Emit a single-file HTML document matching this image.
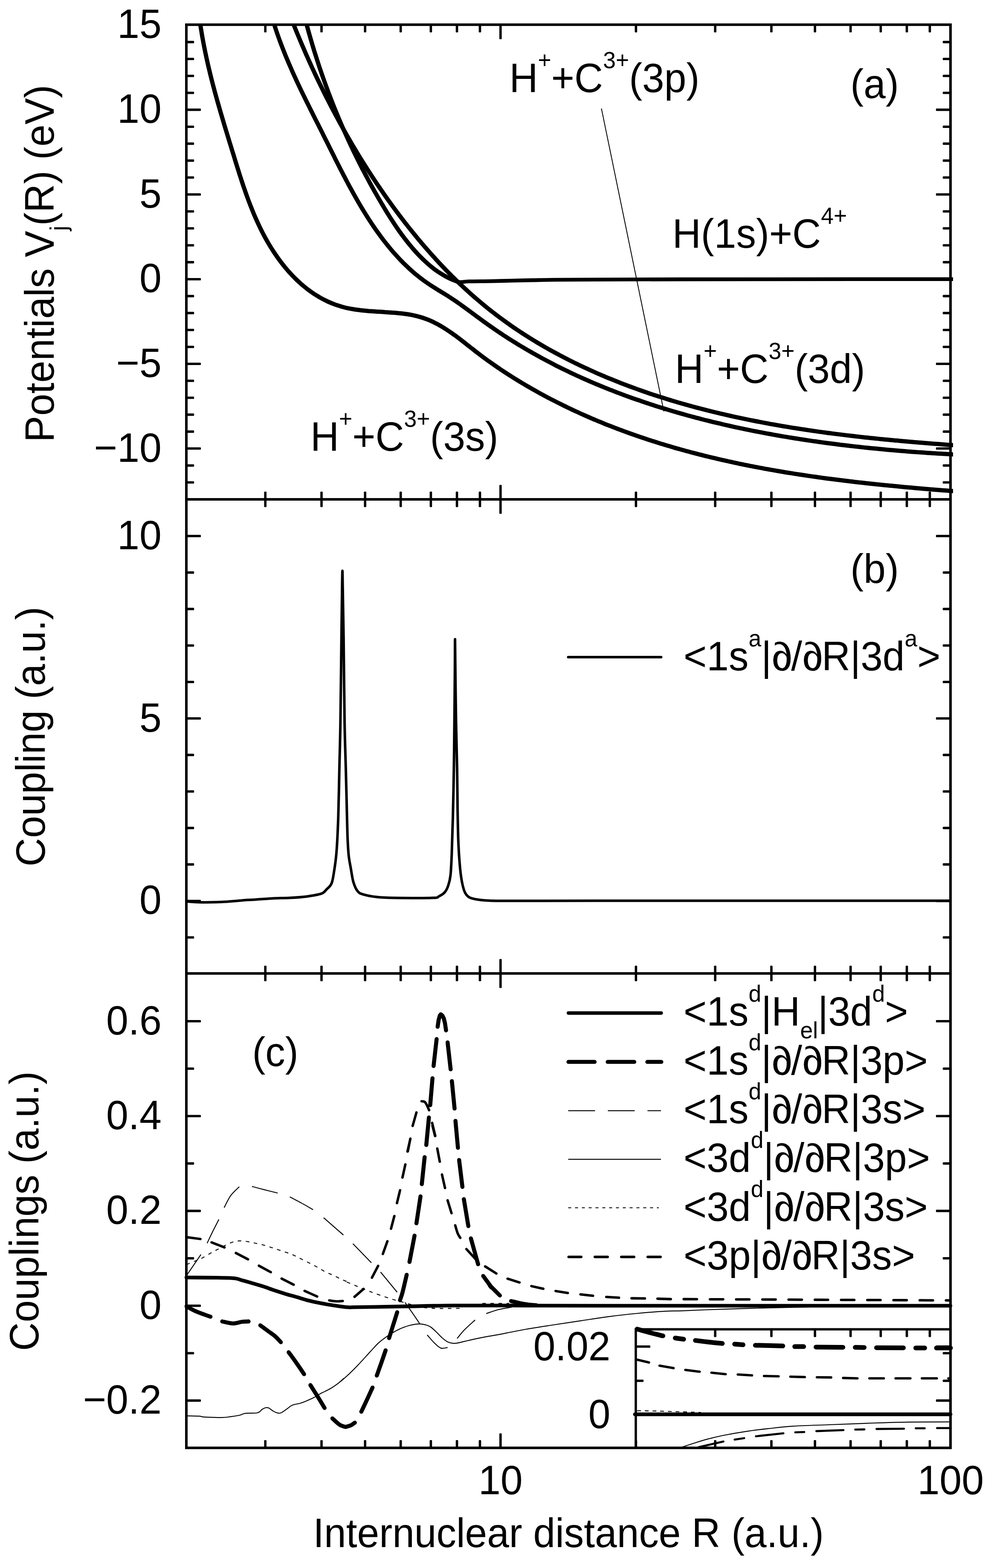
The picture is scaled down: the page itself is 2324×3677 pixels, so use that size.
<!DOCTYPE html>
<html lang="en"><head><meta charset="utf-8"><title>Potentials and couplings</title>
<style>html,body{margin:0;padding:0;background:#fff}svg{display:block}text{font-family:"Liberation Sans",sans-serif;fill:#000}</style>
</head><body>
<svg width="2324" height="3677" viewBox="0 0 2324 3677">
<rect x="0" y="0" width="2324" height="3677" fill="#fff"/>
<defs>
<clipPath id="ca"><rect x="437.0" y="54.9" width="1798.0" height="1116.1"/></clipPath>
<clipPath id="cb"><rect x="437.0" y="1171.0" width="1792.0" height="1111.8000000000002"/></clipPath>
<clipPath id="cc"><rect x="433.0" y="2282.8" width="1800.0" height="1112.5"/></clipPath>
<clipPath id="ci"><rect x="1484" y="3110" width="751.0" height="285.3000000000002"/></clipPath>
</defs>
<g fill="none" stroke="#000">
<g clip-path="url(#ca)">
<path d="M467.0 37.3C467.2 39.4 468.0 45.5 468.6 49.6C469.2 53.7 469.8 57.8 470.4 61.8C471.1 65.9 471.7 69.9 472.4 74.0C473.0 78.0 473.7 82.1 474.4 86.1C475.1 90.1 475.9 94.1 476.6 98.1C477.3 102.1 478.1 106.1 478.9 110.0C479.7 114.0 480.5 118.0 481.3 121.9C482.1 125.9 483.0 129.8 483.8 133.8C484.7 137.7 485.5 141.6 486.4 145.6C487.3 149.5 488.2 153.4 489.1 157.3C490.0 161.2 491.0 165.1 491.9 169.0C492.8 172.9 493.8 176.8 494.8 180.7C495.7 184.5 496.7 188.4 497.7 192.3C498.7 196.2 499.7 200.0 500.7 203.9C501.8 207.7 502.8 211.6 503.8 215.4C504.9 219.3 505.9 223.1 507.0 227.0C508.1 230.8 509.1 234.7 510.2 238.5C511.3 242.4 512.4 246.2 513.5 250.0C514.6 253.9 515.7 257.7 516.8 261.5C517.9 265.4 519.1 269.2 520.2 273.0C521.3 276.8 522.5 280.7 523.6 284.5C524.7 288.3 525.9 292.2 527.0 296.0C528.2 299.8 529.4 303.6 530.5 307.5C531.7 311.3 532.9 315.1 534.0 319.0C535.2 322.8 536.4 326.6 537.5 330.5C538.7 334.3 539.9 338.2 541.1 342.0C542.3 345.9 543.4 349.7 544.6 353.6C545.8 357.4 547.0 361.3 548.2 365.1C549.4 369.0 550.5 372.8 551.7 376.7C552.9 380.6 554.1 384.4 555.3 388.3C556.5 392.2 557.7 396.0 559.0 399.9C560.2 403.8 561.4 407.6 562.6 411.5C563.9 415.3 565.1 419.2 566.4 423.1C567.7 426.9 568.9 430.8 570.2 434.6C571.5 438.5 572.8 442.3 574.2 446.1C575.5 450.0 576.9 453.8 578.2 457.6C579.6 461.4 581.0 465.3 582.4 469.1C583.8 472.9 585.3 476.6 586.7 480.4C588.2 484.2 589.7 488.0 591.2 491.7C592.7 495.5 594.3 499.2 595.8 503.0C597.4 506.7 599.0 510.4 600.7 514.1C602.3 517.8 604.0 521.5 605.7 525.2C607.4 528.8 609.2 532.5 610.9 536.1C612.7 539.7 614.6 543.4 616.4 547.0C618.3 550.6 620.2 554.1 622.1 557.7C624.1 561.2 626.1 564.8 628.1 568.3C630.2 571.8 632.2 575.3 634.4 578.7C636.5 582.2 638.7 585.6 640.9 589.0C643.1 592.4 645.4 595.8 647.7 599.1C650.0 602.5 652.3 605.8 654.7 609.0C657.1 612.3 659.5 615.5 662.0 618.7C664.5 621.9 667.1 625.0 669.6 628.1C672.2 631.2 674.8 634.3 677.5 637.3C680.2 640.2 682.9 643.2 685.6 646.1C688.4 649.0 691.2 651.8 694.0 654.6C696.9 657.4 699.8 660.1 702.7 662.7C705.6 665.4 708.6 668.0 711.6 670.5C714.7 673.1 717.7 675.5 720.9 677.9C724.0 680.3 727.1 682.6 730.3 684.9C733.6 687.1 736.8 689.3 740.1 691.4C743.4 693.5 746.8 695.5 750.1 697.5C753.5 699.4 757.0 701.3 760.4 703.1C763.9 704.8 767.5 706.5 771.0 708.1C774.6 709.7 778.2 711.2 781.9 712.6C785.5 714.1 789.2 715.4 793.0 716.6C796.7 717.8 800.5 719.0 804.4 720.0C808.2 721.0 812.1 722.0 816.1 722.8C820.0 723.6 824.0 724.4 828.0 725.0C832.0 725.7 836.0 726.3 840.1 726.8C844.1 727.4 848.2 727.8 852.3 728.2C856.5 728.7 860.6 729.0 864.7 729.4C868.9 729.7 873.0 730.0 877.2 730.3C881.4 730.6 885.5 730.8 889.7 731.1C893.9 731.3 898.0 731.6 902.2 731.9C906.4 732.1 910.5 732.4 914.7 732.7C918.8 733.0 922.9 733.3 927.0 733.6C931.1 734.0 935.2 734.4 939.3 734.8C943.3 735.3 947.4 735.8 951.3 736.3C955.3 736.9 959.3 737.5 963.2 738.2C967.1 739.0 971.0 739.7 974.8 740.6C978.6 741.5 982.4 742.5 986.1 743.6C989.8 744.7 993.5 745.9 997.1 747.2C1000.7 748.5 1004.3 749.9 1007.8 751.4C1011.3 752.9 1014.8 754.5 1018.2 756.2C1021.6 757.9 1025.0 759.6 1028.3 761.5C1031.7 763.3 1035.0 765.2 1038.2 767.2C1041.5 769.2 1044.8 771.3 1048.0 773.4C1051.2 775.5 1054.4 777.7 1057.6 779.9C1060.7 782.1 1063.9 784.3 1067.0 786.6C1070.2 788.9 1073.3 791.3 1076.4 793.6C1079.5 796.0 1082.6 798.4 1085.7 800.8C1088.8 803.2 1091.9 805.6 1095.0 808.1C1098.1 810.5 1101.3 813.0 1104.4 815.4C1107.5 817.8 1110.6 820.3 1113.7 822.7C1116.9 825.2 1120.0 827.6 1123.2 830.0C1126.3 832.4 1129.5 834.8 1132.7 837.2C1135.9 839.5 1139.1 841.9 1142.3 844.2C1145.6 846.6 1148.8 848.9 1152.1 851.2C1155.3 853.5 1158.6 855.8 1161.9 858.0C1165.2 860.3 1168.5 862.6 1171.8 864.8C1175.1 867.1 1178.4 869.3 1181.8 871.5C1185.1 873.7 1188.5 875.9 1191.9 878.1C1195.2 880.2 1198.6 882.4 1202.0 884.5C1205.4 886.7 1208.8 888.8 1212.3 890.9C1215.7 893.0 1219.1 895.1 1222.6 897.2C1226.0 899.3 1229.5 901.3 1232.9 903.4C1236.4 905.4 1239.9 907.4 1243.4 909.4C1246.9 911.5 1250.4 913.5 1253.9 915.4C1257.4 917.4 1260.9 919.4 1264.5 921.3C1268.0 923.3 1271.6 925.2 1275.1 927.1C1278.7 929.0 1282.3 930.9 1285.8 932.8C1289.4 934.7 1293.0 936.6 1296.6 938.4C1300.2 940.3 1303.8 942.1 1307.4 943.9C1311.0 945.7 1314.6 947.5 1318.3 949.3C1321.9 951.1 1325.5 952.9 1329.2 954.6C1332.8 956.4 1336.5 958.1 1340.1 959.9C1343.8 961.6 1347.4 963.3 1351.1 965.0C1354.8 966.7 1358.5 968.3 1362.1 970.0C1365.8 971.7 1369.5 973.3 1373.2 974.9C1376.9 976.6 1380.6 978.2 1384.3 979.8C1388.0 981.4 1391.7 983.0 1395.5 984.5C1399.2 986.1 1402.9 987.7 1406.6 989.2C1410.4 990.7 1414.1 992.3 1417.8 993.8C1421.6 995.3 1425.3 996.8 1429.1 998.2C1432.8 999.7 1436.6 1001.2 1440.3 1002.6C1444.1 1004.1 1447.9 1005.5 1451.6 1006.9C1455.4 1008.3 1459.2 1009.7 1463.0 1011.1C1466.7 1012.5 1470.5 1013.9 1474.3 1015.3C1478.1 1016.6 1481.9 1018.0 1485.7 1019.3C1489.5 1020.6 1493.3 1022.0 1497.1 1023.3C1500.9 1024.6 1504.7 1025.9 1508.5 1027.1C1512.4 1028.4 1516.2 1029.7 1520.0 1030.9C1523.8 1032.2 1527.7 1033.4 1531.5 1034.6C1535.3 1035.9 1539.2 1037.1 1543.0 1038.3C1546.9 1039.5 1550.7 1040.7 1554.6 1041.8C1558.4 1043.0 1562.3 1044.2 1566.1 1045.3C1570.0 1046.5 1573.8 1047.6 1577.7 1048.7C1581.6 1049.9 1585.4 1051.0 1589.3 1052.1C1593.2 1053.2 1597.1 1054.2 1600.9 1055.3C1604.8 1056.4 1608.7 1057.5 1612.6 1058.5C1616.5 1059.6 1620.4 1060.6 1624.3 1061.6C1628.2 1062.6 1632.1 1063.7 1636.0 1064.7C1639.9 1065.7 1643.8 1066.7 1647.7 1067.6C1651.6 1068.6 1655.5 1069.6 1659.4 1070.5C1663.3 1071.5 1667.2 1072.4 1671.2 1073.4C1675.1 1074.3 1679.0 1075.2 1682.9 1076.2C1686.9 1077.1 1690.8 1078.0 1694.7 1078.9C1698.6 1079.8 1702.6 1080.6 1706.5 1081.5C1710.5 1082.4 1714.4 1083.2 1718.3 1084.1C1722.3 1084.9 1726.2 1085.8 1730.2 1086.6C1734.1 1087.5 1738.1 1088.3 1742.0 1089.1C1746.0 1089.9 1749.9 1090.7 1753.9 1091.5C1757.9 1092.3 1761.8 1093.1 1765.8 1093.8C1769.7 1094.6 1773.7 1095.4 1777.7 1096.1C1781.6 1096.9 1785.6 1097.6 1789.6 1098.3C1793.5 1099.1 1797.5 1099.8 1801.5 1100.5C1805.5 1101.2 1809.4 1101.9 1813.4 1102.6C1817.4 1103.3 1821.4 1104.0 1825.4 1104.7C1829.4 1105.4 1833.3 1106.1 1837.3 1106.7C1841.3 1107.4 1845.3 1108.1 1849.3 1108.7C1853.3 1109.3 1857.3 1110.0 1861.3 1110.6C1865.2 1111.3 1869.2 1111.9 1873.2 1112.5C1877.2 1113.1 1881.2 1113.7 1885.2 1114.3C1889.2 1114.9 1893.2 1115.5 1897.2 1116.1C1901.2 1116.7 1905.2 1117.3 1909.2 1117.8C1913.2 1118.4 1917.2 1119.0 1921.2 1119.5C1925.2 1120.1 1929.2 1120.6 1933.2 1121.2C1937.2 1121.7 1941.2 1122.2 1945.3 1122.8C1949.3 1123.3 1953.3 1123.8 1957.3 1124.3C1961.3 1124.8 1965.3 1125.3 1969.3 1125.8C1973.3 1126.3 1977.3 1126.8 1981.3 1127.3C1985.3 1127.8 1989.4 1128.3 1993.4 1128.8C1997.4 1129.2 2001.4 1129.7 2005.4 1130.2C2009.4 1130.6 2013.4 1131.1 2017.4 1131.6C2021.5 1132.0 2025.5 1132.5 2029.5 1132.9C2033.5 1133.3 2037.5 1133.8 2041.5 1134.2C2045.5 1134.6 2049.5 1135.1 2053.6 1135.5C2057.6 1135.9 2061.6 1136.3 2065.6 1136.7C2069.6 1137.1 2073.6 1137.5 2077.6 1137.9C2081.6 1138.4 2085.6 1138.7 2089.7 1139.1C2093.7 1139.5 2097.7 1139.9 2101.7 1140.3C2105.7 1140.7 2109.7 1141.1 2113.7 1141.4C2117.7 1141.8 2121.7 1142.2 2125.7 1142.5C2129.7 1142.9 2133.8 1143.3 2137.8 1143.6C2141.8 1144.0 2145.8 1144.3 2149.8 1144.7C2153.8 1145.0 2157.8 1145.4 2161.8 1145.7C2165.8 1146.1 2169.8 1146.4 2173.8 1146.7C2177.8 1147.1 2181.8 1147.4 2185.8 1147.7C2189.8 1148.1 2193.8 1148.4 2197.8 1148.7C2201.8 1149.0 2205.8 1149.4 2209.8 1149.7C2213.7 1150.0 2217.7 1150.3 2221.7 1150.6C2225.7 1150.9 2231.7 1151.4 2233.7 1151.6" stroke-width="10.0" stroke-linecap="round" stroke-linejoin="round" />
<path d="M637.0 37.2C637.6 39.2 639.3 45.1 640.5 49.1C641.7 53.0 642.9 56.9 644.2 60.8C645.4 64.7 646.7 68.6 648.0 72.5C649.3 76.3 650.6 80.2 652.0 84.0C653.3 87.8 654.7 91.6 656.1 95.5C657.5 99.3 658.9 103.0 660.4 106.8C661.8 110.6 663.3 114.4 664.8 118.1C666.2 121.9 667.7 125.6 669.2 129.3C670.8 133.0 672.3 136.8 673.9 140.5C675.4 144.2 677.0 147.9 678.6 151.5C680.2 155.2 681.8 158.9 683.4 162.6C685.0 166.2 686.6 169.9 688.3 173.5C689.9 177.2 691.6 180.8 693.3 184.4C694.9 188.1 696.6 191.7 698.3 195.3C700.0 198.9 701.7 202.5 703.4 206.2C705.1 209.8 706.9 213.4 708.6 217.0C710.4 220.6 712.1 224.1 713.9 227.7C715.6 231.3 717.4 234.9 719.1 238.5C720.9 242.1 722.7 245.6 724.5 249.2C726.2 252.8 728.0 256.4 729.8 259.9C731.6 263.5 733.4 267.1 735.2 270.7C737.0 274.2 738.8 277.8 740.6 281.4C742.4 285.0 744.2 288.5 746.0 292.1C747.8 295.7 749.6 299.3 751.4 302.8C753.2 306.4 755.0 310.0 756.8 313.6C758.6 317.2 760.4 320.8 762.2 324.4C764.0 328.0 765.8 331.6 767.6 335.1C769.4 338.7 771.2 342.3 773.0 346.0C774.8 349.6 776.6 353.2 778.4 356.8C780.2 360.4 782.0 364.0 783.8 367.6C785.6 371.2 787.4 374.8 789.2 378.4C791.0 382.0 792.9 385.6 794.7 389.2C796.5 392.8 798.3 396.4 800.2 399.9C802.0 403.5 803.9 407.1 805.7 410.7C807.6 414.3 809.5 417.8 811.3 421.4C813.2 425.0 815.1 428.5 817.0 432.1C818.9 435.6 820.8 439.2 822.8 442.7C824.7 446.3 826.6 449.8 828.6 453.3C830.5 456.8 832.5 460.3 834.5 463.8C836.5 467.3 838.5 470.8 840.5 474.3C842.5 477.8 844.6 481.2 846.6 484.7C848.7 488.1 850.8 491.6 852.9 495.0C855.0 498.4 857.1 501.8 859.2 505.2C861.4 508.6 863.5 512.0 865.7 515.4C867.9 518.8 870.1 522.1 872.3 525.4C874.6 528.8 876.8 532.1 879.1 535.4C881.4 538.7 883.7 542.0 886.1 545.2C888.4 548.5 890.8 551.7 893.2 554.9C895.6 558.2 898.0 561.4 900.4 564.5C902.9 567.7 905.4 570.9 907.9 574.0C910.4 577.1 913.0 580.2 915.5 583.3C918.1 586.4 920.7 589.4 923.4 592.5C926.0 595.5 928.7 598.5 931.4 601.4C934.1 604.4 936.8 607.3 939.6 610.2C942.4 613.1 945.2 615.9 948.0 618.7C950.9 621.5 953.8 624.3 956.7 627.0C959.6 629.8 962.5 632.5 965.5 635.1C968.5 637.7 971.5 640.3 974.5 642.9C977.6 645.4 980.7 647.9 983.8 650.3C986.9 652.8 990.1 655.2 993.3 657.5C996.5 659.8 999.7 662.1 1003.0 664.3C1006.2 666.6 1009.5 668.7 1012.9 670.9C1016.2 673.0 1019.5 675.1 1022.9 677.2C1026.2 679.3 1029.6 681.4 1032.9 683.4C1036.3 685.5 1039.7 687.6 1043.0 689.6C1046.4 691.7 1049.7 693.8 1053.0 695.9C1056.4 698.1 1059.6 700.2 1062.9 702.4C1066.2 704.6 1069.4 706.8 1072.7 709.0C1075.9 711.3 1079.1 713.6 1082.3 715.8C1085.5 718.1 1088.7 720.4 1091.9 722.7C1095.1 725.0 1098.2 727.4 1101.4 729.7C1104.6 732.0 1107.7 734.4 1110.9 736.7C1114.0 739.0 1117.2 741.4 1120.3 743.7C1123.5 746.0 1126.7 748.4 1129.8 750.7C1133.0 753.0 1136.2 755.3 1139.4 757.6C1142.5 759.9 1145.7 762.2 1148.9 764.4C1152.2 766.7 1155.4 768.9 1158.6 771.1C1161.8 773.4 1165.1 775.6 1168.3 777.8C1171.6 780.0 1174.9 782.1 1178.1 784.3C1181.4 786.5 1184.7 788.6 1188.0 790.7C1191.3 792.9 1194.6 795.0 1197.9 797.1C1201.2 799.2 1204.6 801.2 1207.9 803.3C1211.2 805.4 1214.6 807.4 1217.9 809.5C1221.3 811.5 1224.7 813.5 1228.0 815.5C1231.4 817.5 1234.8 819.5 1238.2 821.5C1241.6 823.5 1245.0 825.4 1248.4 827.4C1251.8 829.3 1255.3 831.2 1258.7 833.1C1262.1 835.0 1265.6 836.9 1269.0 838.8C1272.5 840.7 1276.0 842.6 1279.4 844.4C1282.9 846.3 1286.4 848.1 1289.9 849.9C1293.4 851.8 1296.9 853.6 1300.4 855.4C1303.9 857.1 1307.4 858.9 1310.9 860.7C1314.5 862.5 1318.0 864.2 1321.6 865.9C1325.1 867.7 1328.7 869.4 1332.2 871.1C1335.8 872.8 1339.3 874.5 1342.9 876.2C1346.5 877.8 1350.1 879.5 1353.7 881.2C1357.3 882.8 1360.9 884.4 1364.5 886.1C1368.1 887.7 1371.7 889.3 1375.3 890.9C1379.0 892.5 1382.6 894.1 1386.2 895.6C1389.9 897.2 1393.5 898.8 1397.2 900.3C1400.8 901.8 1404.5 903.4 1408.2 904.9C1411.9 906.4 1415.5 907.9 1419.2 909.4C1422.9 910.9 1426.6 912.3 1430.3 913.8C1434.0 915.2 1437.7 916.7 1441.4 918.1C1445.1 919.6 1448.8 921.0 1452.6 922.4C1456.3 923.8 1460.0 925.2 1463.8 926.6C1467.5 927.9 1471.3 929.3 1475.0 930.7C1478.8 932.0 1482.5 933.4 1486.3 934.7C1490.1 936.0 1493.8 937.3 1497.6 938.6C1501.4 940.0 1505.2 941.2 1509.0 942.5C1512.8 943.8 1516.6 945.1 1520.4 946.3C1524.2 947.6 1528.0 948.8 1531.8 950.1C1535.6 951.3 1539.4 952.5 1543.2 953.7C1547.1 954.9 1550.9 956.1 1554.7 957.3C1558.6 958.5 1562.4 959.7 1566.2 960.8C1570.1 962.0 1573.9 963.1 1577.8 964.3C1581.6 965.4 1585.5 966.5 1589.4 967.6C1593.2 968.7 1597.1 969.8 1601.0 970.9C1604.9 972.0 1608.7 973.1 1612.6 974.2C1616.5 975.2 1620.4 976.3 1624.3 977.3C1628.2 978.4 1632.1 979.4 1636.0 980.4C1639.9 981.5 1643.8 982.5 1647.7 983.5C1651.6 984.5 1655.5 985.5 1659.4 986.4C1663.3 987.4 1667.3 988.4 1671.2 989.3C1675.1 990.3 1679.0 991.2 1683.0 992.2C1686.9 993.1 1690.8 994.0 1694.8 995.0C1698.7 995.9 1702.7 996.8 1706.6 997.7C1710.6 998.6 1714.5 999.4 1718.5 1000.3C1722.4 1001.2 1726.4 1002.1 1730.3 1002.9C1734.3 1003.8 1738.2 1004.6 1742.2 1005.4C1746.2 1006.3 1750.1 1007.1 1754.1 1007.9C1758.1 1008.7 1762.0 1009.5 1766.0 1010.3C1770.0 1011.1 1774.0 1011.9 1778.0 1012.7C1781.9 1013.4 1785.9 1014.2 1789.9 1014.9C1793.9 1015.7 1797.9 1016.4 1801.9 1017.2C1805.8 1017.9 1809.8 1018.6 1813.8 1019.4C1817.8 1020.1 1821.8 1020.8 1825.8 1021.5C1829.8 1022.2 1833.8 1022.9 1837.8 1023.6C1841.8 1024.2 1845.8 1024.9 1849.8 1025.6C1853.8 1026.2 1857.8 1026.9 1861.8 1027.5C1865.8 1028.2 1869.8 1028.8 1873.8 1029.4C1877.8 1030.1 1881.8 1030.7 1885.9 1031.3C1889.9 1031.9 1893.9 1032.5 1897.9 1033.1C1901.9 1033.7 1905.9 1034.3 1909.9 1034.8C1913.9 1035.4 1917.9 1036.0 1922.0 1036.5C1926.0 1037.1 1930.0 1037.6 1934.0 1038.2C1938.0 1038.7 1942.0 1039.3 1946.0 1039.8C1950.1 1040.3 1954.1 1040.8 1958.1 1041.3C1962.1 1041.9 1966.1 1042.4 1970.1 1042.9C1974.1 1043.3 1978.2 1043.8 1982.2 1044.3C1986.2 1044.8 1990.2 1045.3 1994.2 1045.7C1998.2 1046.2 2002.2 1046.6 2006.2 1047.1C2010.3 1047.5 2014.3 1048.0 2018.3 1048.4C2022.3 1048.9 2026.3 1049.3 2030.3 1049.7C2034.3 1050.1 2038.3 1050.5 2042.3 1050.9C2046.3 1051.3 2050.4 1051.7 2054.4 1052.1C2058.4 1052.5 2062.4 1052.9 2066.4 1053.3C2070.4 1053.7 2074.4 1054.0 2078.4 1054.4C2082.4 1054.8 2086.4 1055.1 2090.4 1055.5C2094.4 1055.8 2098.4 1056.2 2102.3 1056.5C2106.3 1056.8 2110.3 1057.2 2114.3 1057.5C2118.3 1057.8 2122.3 1058.1 2126.3 1058.5C2130.3 1058.8 2134.2 1059.1 2138.2 1059.4C2142.2 1059.7 2146.2 1060.0 2150.2 1060.3C2154.1 1060.5 2158.1 1060.8 2162.1 1061.1C2166.0 1061.4 2170.0 1061.7 2174.0 1061.9C2177.9 1062.2 2181.9 1062.4 2185.9 1062.7C2189.8 1062.9 2193.8 1063.2 2197.7 1063.4C2201.7 1063.7 2205.6 1063.9 2209.6 1064.1C2213.5 1064.4 2217.5 1064.6 2221.4 1064.8C2225.4 1065.0 2231.3 1065.4 2233.2 1065.5" stroke-width="10.0" stroke-linecap="round" stroke-linejoin="round" />
<path d="M681.1 38.7C681.9 40.6 684.0 46.1 685.5 49.8C687.0 53.5 688.4 57.2 689.9 60.9C691.4 64.6 692.9 68.3 694.4 72.0C695.9 75.7 697.5 79.4 699.0 83.1C700.5 86.8 702.1 90.5 703.6 94.2C705.2 97.9 706.7 101.6 708.3 105.3C709.9 109.0 711.5 112.7 713.1 116.3C714.7 120.0 716.3 123.7 717.9 127.4C719.5 131.0 721.2 134.7 722.8 138.4C724.5 142.1 726.1 145.7 727.8 149.4C729.4 153.1 731.1 156.7 732.8 160.4C734.5 164.0 736.2 167.7 737.9 171.3C739.6 175.0 741.3 178.6 743.0 182.3C744.8 185.9 746.5 189.6 748.3 193.2C750.0 196.8 751.8 200.4 753.6 204.1C755.3 207.7 757.1 211.3 758.9 214.9C760.7 218.6 762.5 222.2 764.3 225.8C766.2 229.4 768.0 233.0 769.8 236.6C771.7 240.2 773.5 243.8 775.4 247.4C777.2 250.9 779.1 254.5 781.0 258.1C782.9 261.7 784.8 265.2 786.7 268.8C788.6 272.4 790.5 275.9 792.4 279.5C794.3 283.0 796.3 286.6 798.2 290.1C800.2 293.7 802.1 297.2 804.1 300.7C806.1 304.2 808.0 307.8 810.0 311.3C812.0 314.8 814.0 318.3 816.0 321.8C818.1 325.3 820.1 328.8 822.1 332.3C824.1 335.8 826.2 339.3 828.2 342.7C830.3 346.2 832.4 349.7 834.4 353.1C836.5 356.6 838.6 360.0 840.7 363.5C842.8 366.9 844.9 370.3 847.0 373.8C849.1 377.2 851.3 380.6 853.4 384.0C855.5 387.4 857.7 390.8 859.9 394.2C862.0 397.6 864.2 401.0 866.4 404.4C868.6 407.7 870.8 411.1 873.0 414.5C875.2 417.8 877.4 421.2 879.6 424.5C881.8 427.8 884.1 431.2 886.3 434.5C888.6 437.8 890.8 441.1 893.1 444.4C895.3 447.7 897.6 451.0 899.9 454.3C902.2 457.6 904.5 460.9 906.8 464.1C909.1 467.4 911.4 470.6 913.8 473.9C916.1 477.1 918.4 480.3 920.8 483.6C923.1 486.8 925.5 490.0 927.9 493.2C930.3 496.4 932.6 499.6 935.0 502.7C937.4 505.9 939.8 509.1 942.2 512.2C944.7 515.4 947.1 518.5 949.5 521.7C951.9 524.8 954.4 527.9 956.8 531.0C959.3 534.1 961.8 537.2 964.2 540.3C966.7 543.4 969.2 546.5 971.7 549.5C974.2 552.6 976.7 555.6 979.2 558.7C981.8 561.7 984.3 564.7 986.8 567.7C989.4 570.7 991.9 573.7 994.5 576.7C997.0 579.7 999.6 582.7 1002.2 585.6C1004.8 588.6 1007.4 591.5 1010.0 594.5C1012.6 597.4 1015.2 600.3 1017.8 603.2C1020.4 606.1 1023.1 609.0 1025.7 611.9C1028.4 614.8 1031.1 617.6 1033.7 620.5C1036.4 623.3 1039.1 626.2 1041.8 629.0C1044.5 631.8 1047.2 634.6 1049.9 637.4C1052.7 640.2 1055.4 642.9 1058.2 645.7C1060.9 648.5 1063.7 651.2 1066.5 653.9C1069.2 656.7 1072.0 659.4 1074.8 662.1C1077.6 664.8 1080.4 667.4 1083.3 670.1C1086.1 672.8 1089.0 675.4 1091.8 678.0C1094.7 680.7 1097.6 683.3 1100.4 685.9C1103.3 688.5 1106.2 691.1 1109.1 693.6C1112.1 696.2 1115.0 698.8 1117.9 701.3C1120.9 703.8 1123.8 706.3 1126.8 708.8C1129.8 711.3 1132.8 713.8 1135.8 716.3C1138.8 718.7 1141.8 721.2 1144.8 723.6C1147.9 726.0 1150.9 728.5 1154.0 730.9C1157.1 733.2 1160.1 735.6 1163.2 738.0C1166.3 740.3 1169.4 742.7 1172.6 745.0C1175.7 747.3 1178.8 749.6 1182.0 751.9C1185.1 754.2 1188.3 756.5 1191.5 758.7C1194.7 761.0 1197.9 763.2 1201.1 765.5C1204.3 767.7 1207.5 769.9 1210.8 772.1C1214.0 774.3 1217.3 776.4 1220.6 778.6C1223.8 780.7 1227.1 782.9 1230.4 785.0C1233.7 787.1 1237.0 789.2 1240.3 791.3C1243.7 793.4 1247.0 795.4 1250.3 797.5C1253.7 799.5 1257.1 801.6 1260.4 803.6C1263.8 805.6 1267.2 807.6 1270.6 809.6C1274.0 811.6 1277.4 813.5 1280.8 815.5C1284.3 817.5 1287.7 819.4 1291.1 821.3C1294.6 823.2 1298.0 825.1 1301.5 827.0C1305.0 828.9 1308.5 830.8 1312.0 832.6C1315.5 834.5 1319.0 836.3 1322.5 838.2C1326.0 840.0 1329.5 841.8 1333.1 843.6C1336.6 845.4 1340.1 847.1 1343.7 848.9C1347.2 850.7 1350.8 852.4 1354.4 854.1C1358.0 855.9 1361.6 857.6 1365.2 859.3C1368.7 861.0 1372.4 862.7 1376.0 864.3C1379.6 866.0 1383.2 867.7 1386.8 869.3C1390.5 870.9 1394.1 872.5 1397.8 874.2C1401.4 875.8 1405.1 877.4 1408.7 878.9C1412.4 880.5 1416.1 882.1 1419.8 883.6C1423.5 885.2 1427.2 886.7 1430.9 888.2C1434.6 889.7 1438.3 891.2 1442.0 892.7C1445.7 894.2 1449.4 895.7 1453.1 897.2C1456.9 898.6 1460.6 900.1 1464.4 901.5C1468.1 902.9 1471.9 904.3 1475.6 905.7C1479.4 907.1 1483.1 908.5 1486.9 909.9C1490.7 911.3 1494.5 912.6 1498.2 914.0C1502.0 915.3 1505.8 916.7 1509.6 918.0C1513.4 919.3 1517.2 920.6 1521.0 921.9C1524.8 923.2 1528.6 924.5 1532.4 925.7C1536.3 927.0 1540.1 928.2 1543.9 929.5C1547.7 930.7 1551.6 931.9 1555.4 933.1C1559.3 934.3 1563.1 935.5 1566.9 936.7C1570.8 937.9 1574.6 939.1 1578.5 940.2C1582.4 941.4 1586.2 942.5 1590.1 943.7C1593.9 944.8 1597.8 945.9 1601.7 947.0C1605.6 948.1 1609.4 949.2 1613.3 950.3C1617.2 951.4 1621.1 952.4 1625.0 953.5C1628.9 954.5 1632.8 955.6 1636.7 956.6C1640.6 957.6 1644.5 958.7 1648.4 959.7C1652.3 960.7 1656.2 961.7 1660.1 962.7C1664.0 963.6 1667.9 964.6 1671.9 965.6C1675.8 966.5 1679.7 967.5 1683.6 968.4C1687.6 969.4 1691.5 970.3 1695.4 971.2C1699.4 972.1 1703.3 973.0 1707.2 973.9C1711.2 974.8 1715.1 975.7 1719.1 976.6C1723.0 977.4 1727.0 978.3 1730.9 979.1C1734.9 980.0 1738.8 980.8 1742.8 981.7C1746.7 982.5 1750.7 983.3 1754.7 984.1C1758.6 984.9 1762.6 985.7 1766.5 986.5C1770.5 987.3 1774.5 988.1 1778.5 988.8C1782.4 989.6 1786.4 990.4 1790.4 991.1C1794.4 991.9 1798.3 992.6 1802.3 993.3C1806.3 994.1 1810.3 994.8 1814.3 995.5C1818.2 996.2 1822.2 996.9 1826.2 997.6C1830.2 998.3 1834.2 999.0 1838.2 999.7C1842.2 1000.3 1846.2 1001.0 1850.2 1001.6C1854.2 1002.3 1858.2 1003.0 1862.1 1003.6C1866.1 1004.2 1870.1 1004.9 1874.1 1005.5C1878.1 1006.1 1882.1 1006.7 1886.1 1007.3C1890.1 1007.9 1894.1 1008.5 1898.1 1009.1C1902.1 1009.7 1906.2 1010.3 1910.2 1010.9C1914.2 1011.4 1918.2 1012.0 1922.2 1012.6C1926.2 1013.1 1930.2 1013.7 1934.2 1014.2C1938.2 1014.8 1942.2 1015.3 1946.2 1015.8C1950.2 1016.3 1954.2 1016.9 1958.2 1017.4C1962.2 1017.9 1966.2 1018.4 1970.3 1018.9C1974.3 1019.4 1978.3 1019.9 1982.3 1020.4C1986.3 1020.9 1990.3 1021.3 1994.3 1021.8C1998.3 1022.3 2002.3 1022.8 2006.3 1023.2C2010.3 1023.7 2014.3 1024.1 2018.3 1024.6C2022.3 1025.0 2026.3 1025.5 2030.4 1025.9C2034.4 1026.3 2038.4 1026.8 2042.4 1027.2C2046.4 1027.6 2050.4 1028.0 2054.4 1028.4C2058.4 1028.9 2062.4 1029.3 2066.4 1029.7C2070.4 1030.1 2074.4 1030.5 2078.4 1030.8C2082.4 1031.2 2086.4 1031.6 2090.3 1032.0C2094.3 1032.4 2098.3 1032.8 2102.3 1033.1C2106.3 1033.5 2110.3 1033.9 2114.3 1034.2C2118.3 1034.6 2122.3 1034.9 2126.3 1035.3C2130.2 1035.6 2134.2 1036.0 2138.2 1036.3C2142.2 1036.7 2146.2 1037.0 2150.1 1037.3C2154.1 1037.7 2158.1 1038.0 2162.1 1038.3C2166.0 1038.6 2170.0 1039.0 2174.0 1039.3C2177.9 1039.6 2181.9 1039.9 2185.9 1040.2C2189.8 1040.5 2193.8 1040.8 2197.7 1041.1C2201.7 1041.4 2205.7 1041.7 2209.6 1042.0C2213.6 1042.3 2217.5 1042.6 2221.5 1042.9C2225.4 1043.2 2231.3 1043.6 2233.3 1043.8" stroke-width="10.0" stroke-linecap="round" stroke-linejoin="round" />
<path d="M713.9 37.6C714.4 39.6 716.0 45.6 717.0 49.6C718.1 53.6 719.2 57.7 720.2 61.7C721.3 65.7 722.4 69.7 723.5 73.7C724.6 77.7 725.8 81.7 726.9 85.6C728.1 89.6 729.2 93.6 730.4 97.6C731.5 101.6 732.7 105.5 733.9 109.5C735.1 113.4 736.3 117.4 737.5 121.4C738.8 125.3 740.0 129.3 741.3 133.2C742.5 137.1 743.8 141.1 745.1 145.0C746.3 148.9 747.6 152.9 748.9 156.8C750.2 160.7 751.6 164.6 752.9 168.5C754.2 172.4 755.6 176.3 756.9 180.2C758.3 184.1 759.7 188.0 761.1 191.9C762.5 195.8 763.9 199.7 765.3 203.5C766.7 207.4 768.2 211.3 769.6 215.2C771.0 219.0 772.5 222.9 774.0 226.7C775.5 230.6 776.9 234.4 778.5 238.2C780.0 242.1 781.5 245.9 783.0 249.7C784.5 253.6 786.1 257.4 787.6 261.2C789.2 265.0 790.8 268.8 792.4 272.6C793.9 276.4 795.5 280.2 797.2 284.0C798.8 287.8 800.4 291.6 802.0 295.3C803.7 299.1 805.3 302.9 807.0 306.7C808.7 310.4 810.4 314.2 812.1 317.9C813.8 321.7 815.5 325.4 817.2 329.2C818.9 332.9 820.7 336.6 822.4 340.3C824.2 344.1 825.9 347.8 827.7 351.5C829.5 355.2 831.3 358.9 833.1 362.6C834.9 366.3 836.7 370.0 838.6 373.7C840.4 377.4 842.2 381.0 844.1 384.7C846.0 388.4 847.8 392.0 849.7 395.7C851.6 399.3 853.5 403.0 855.5 406.6C857.4 410.3 859.3 413.9 861.3 417.5C863.2 421.2 865.2 424.8 867.1 428.4C869.1 432.0 871.1 435.6 873.1 439.2C875.1 442.8 877.1 446.4 879.1 450.0C881.2 453.6 883.2 457.1 885.3 460.7C887.3 464.3 889.4 467.8 891.5 471.4C893.6 475.0 895.6 478.5 897.8 482.0C899.9 485.6 902.0 489.1 904.1 492.6C906.3 496.2 908.4 499.7 910.6 503.2C912.8 506.7 915.0 510.1 917.2 513.6C919.5 517.1 921.7 520.5 924.0 523.9C926.2 527.4 928.5 530.8 930.9 534.1C933.2 537.5 935.5 540.9 937.9 544.2C940.3 547.6 942.7 550.9 945.2 554.1C947.6 557.4 950.1 560.7 952.6 563.9C955.1 567.1 957.7 570.3 960.3 573.5C962.9 576.6 965.5 579.8 968.2 582.9C970.8 585.9 973.5 589.0 976.3 592.0C979.1 595.0 981.8 598.0 984.7 600.9C987.5 603.8 990.4 606.7 993.4 609.5C996.3 612.4 999.3 615.1 1002.4 617.8C1005.4 620.5 1008.5 623.2 1011.7 625.7C1014.9 628.3 1018.1 630.8 1021.4 633.2C1024.7 635.6 1028.0 637.9 1031.5 640.1C1034.9 642.3 1038.4 644.4 1042.0 646.4C1045.5 648.5 1049.2 650.4 1052.9 652.2C1056.6 654.0 1060.4 655.7 1064.3 657.2C1068.2 658.8 1074.2 660.8 1076.2 661.6" stroke-width="10.0" stroke-linecap="round" stroke-linejoin="round" />
<path d="M1064.3 657.2C1066.3 658.0 1070.3 661.1 1076.2 661.6C1082.2 662.0 1087.7 660.3 1100.0 659.9C1112.3 659.5 1133.3 659.6 1150.0 659.3C1166.7 659.0 1183.3 658.5 1200.0 658.1C1216.7 657.7 1233.3 657.3 1250.0 657.0C1266.7 656.7 1275.0 656.4 1300.0 656.2C1325.0 656.0 1350.0 655.8 1400.0 655.6C1450.0 655.4 1500.0 655.1 1600.0 655.0C1700.0 654.9 1894.3 654.8 2000.0 654.7C2105.7 654.6 2195.0 654.6 2234.0 654.6" stroke-width="8.8" stroke-linecap="round" stroke-linejoin="round" />
</g>
<path d="M1410.4 254.4L1556.8 964.8" stroke-width="2.0" stroke-linecap="butt" stroke-linejoin="round" />
<g clip-path="url(#cb)">
<path d="M437.0 2113.8C443.0 2114.2 458.3 2115.7 473.1 2115.9C487.8 2116.1 508.1 2115.7 525.6 2114.8C543.1 2114.0 565.8 2111.5 578.2 2110.6C590.6 2109.7 589.8 2110.1 600.0 2109.5C610.2 2108.8 626.3 2107.4 639.4 2106.7C652.6 2106.0 665.7 2106.2 678.8 2105.5C692.0 2104.8 705.8 2104.0 718.3 2102.4C730.7 2100.7 745.9 2098.4 753.7 2095.7C761.6 2092.9 761.6 2089.7 765.6 2085.8C769.5 2081.9 774.4 2078.9 777.4 2072.0C780.4 2065.1 781.3 2056.9 783.3 2044.4C785.3 2031.9 787.6 2018.1 789.2 1997.1C790.9 1976.1 792.0 1951.1 793.2 1918.3C794.3 1885.4 795.1 1837.3 795.9 1800.0C796.8 1762.7 797.5 1744.7 798.3 1694.2C799.1 1643.7 800.0 1549.7 800.7 1497.1C801.3 1444.5 801.8 1405.3 802.2 1378.8C802.6 1352.4 802.8 1338.6 803.0 1338.6C803.3 1338.6 803.3 1352.4 803.8 1378.8C804.3 1405.3 805.1 1444.5 805.8 1497.1C806.5 1549.7 807.3 1643.7 808.1 1694.2C809.0 1744.7 810.1 1769.2 810.9 1800.0C811.7 1830.8 812.2 1852.6 812.9 1878.8C813.5 1905.1 814.1 1936.7 814.8 1957.7C815.6 1978.7 816.3 1991.9 817.6 2005.0C818.9 2018.1 820.9 2026.0 822.7 2036.5C824.6 2047.0 826.0 2059.2 828.6 2068.1C831.3 2076.9 834.6 2084.8 838.5 2089.7C842.4 2094.7 844.7 2095.3 852.3 2097.6C859.9 2099.9 872.0 2102.2 883.8 2103.5C895.7 2104.9 901.6 2105.2 923.3 2105.5C944.9 2105.8 996.2 2106.2 1013.9 2105.5C1031.7 2104.9 1024.8 2103.9 1029.7 2101.6C1034.6 2099.3 1039.9 2096.0 1043.5 2091.7C1047.1 2087.4 1049.2 2082.5 1051.4 2075.9C1053.5 2069.4 1055.2 2064.1 1056.5 2052.3C1057.8 2040.5 1058.3 2027.3 1059.3 2005.0C1060.2 1982.7 1061.2 1952.4 1062.0 1918.3C1062.9 1884.1 1063.8 1837.3 1064.4 1800.0C1065.0 1762.7 1065.2 1731.6 1065.6 1694.2C1066.0 1656.9 1066.5 1608.5 1066.7 1575.9C1067.0 1543.4 1066.9 1499.1 1067.1 1499.1C1067.3 1499.1 1067.5 1543.4 1067.9 1575.9C1068.3 1608.5 1068.9 1656.9 1069.5 1694.2C1070.2 1731.6 1071.3 1765.9 1071.9 1800.0C1072.5 1834.1 1072.5 1869.0 1073.1 1898.6C1073.6 1928.1 1074.0 1954.4 1075.0 1977.4C1076.0 2000.4 1077.5 2020.8 1079.0 2036.5C1080.5 2052.3 1082.1 2062.5 1084.1 2072.0C1086.1 2081.5 1088.0 2088.3 1090.8 2093.7C1093.6 2099.1 1095.7 2101.7 1100.7 2104.3C1105.6 2107.0 1111.8 2108.1 1120.4 2109.5C1128.9 2110.8 1138.6 2111.7 1151.9 2112.2C1165.2 2112.7 1158.6 2112.6 1200.0 2112.6C1241.3 2112.6 1228.5 2112.4 1400.0 2112.3C1571.5 2112.2 2090.8 2112.2 2229.0 2112.2" stroke-width="6.0" stroke-linecap="round" stroke-linejoin="round" />
</g>
<path d="M1332.5 1541H1550.5" stroke-width="6.0" stroke-linecap="round" stroke-linejoin="round" />
<path d="M1333 2375.6H1550.5" stroke-width="8.2" stroke-linecap="round" stroke-linejoin="round" />
<path d="M1333 2490H1100" stroke-width="0" stroke-linecap="round" stroke-linejoin="round" />
<path d="M1333 2490.2H1394.5" stroke-width="9.2" stroke-linecap="round" stroke-linejoin="round" />
<path d="M1425 2490.2H1487.5" stroke-width="9.2" stroke-linecap="round" stroke-linejoin="round" />
<path d="M1518 2490.2H1551" stroke-width="9.2" stroke-linecap="round" stroke-linejoin="round" />
<path d="M1332.5 2604.6H1395.5" stroke-width="2.2" stroke-linecap="butt" stroke-linejoin="round" />
<path d="M1425.5 2604.6H1488.5" stroke-width="2.2" stroke-linecap="butt" stroke-linejoin="round" />
<path d="M1518.5 2604.6H1550" stroke-width="2.2" stroke-linecap="butt" stroke-linejoin="round" />
<path d="M1332.5 2718.7H1550" stroke-width="2.2" stroke-linecap="butt" stroke-linejoin="round" />
<path d="M1332.5 2832.2H1545" stroke-width="2.1" stroke-linecap="butt" stroke-linejoin="round" stroke-dasharray="7 9"/>
<path d="M1333.5 2947.6H1363" stroke-width="6" stroke-linecap="round" stroke-linejoin="round" />
<path d="M1395 2947.6H1425" stroke-width="6" stroke-linecap="round" stroke-linejoin="round" />
<path d="M1457 2947.6H1487" stroke-width="6" stroke-linecap="round" stroke-linejoin="round" />
<path d="M1519 2947.6H1549" stroke-width="6" stroke-linecap="round" stroke-linejoin="round" />
<g clip-path="url(#cc)">
<path d="M437.1 2965.4C440.4 2964.1 450.9 2960.0 456.8 2957.6C462.7 2955.1 467.3 2953.6 472.6 2951.0C477.8 2948.4 482.6 2945.0 488.3 2941.8C494.0 2938.6 498.4 2936.2 506.7 2931.8C515.1 2927.4 529.9 2919.1 538.3 2915.5C546.6 2911.9 550.5 2911.0 556.7 2910.2C562.8 2909.5 568.9 2910.1 575.1 2910.8C581.2 2911.4 587.3 2913.0 593.5 2914.2C599.6 2915.4 605.7 2916.6 611.9 2918.1C618.0 2919.7 624.6 2921.6 630.2 2923.4C635.9 2925.1 640.3 2926.8 646.0 2928.6C651.7 2930.5 658.3 2932.6 664.4 2934.7C670.5 2936.7 677.1 2938.7 682.8 2941.0C688.5 2943.3 693.1 2945.7 698.6 2948.4C704.1 2951.0 710.0 2954.2 715.7 2957.0C721.4 2959.9 727.3 2962.6 732.7 2965.4C738.2 2968.3 743.3 2971.1 748.5 2974.1C753.8 2977.1 758.8 2980.6 764.3 2983.3C769.8 2986.0 775.7 2987.8 781.4 2990.4C787.1 2993.0 793.0 2996.5 798.4 2999.1C803.9 3001.6 812.2 3004.6 814.2 3005.7C816.2 3006.7 808.1 3004.1 810.5 3005.3C813.0 3006.5 823.2 3010.3 828.9 3012.7C834.6 3015.1 839.2 3017.5 844.7 3019.8C850.2 3022.0 856.1 3024.1 861.8 3026.3C867.5 3028.5 869.4 3029.6 878.8 3032.9C888.3 3036.2 906.9 3042.7 918.3 3046.3C929.7 3049.8 936.2 3051.1 947.2 3054.2C958.1 3057.2 972.1 3062.4 984.0 3064.7C995.8 3067.0 1001.7 3067.5 1018.1 3068.1C1034.6 3068.7 1071.8 3068.1 1082.5 3068.1" stroke-width="2.1" stroke-linecap="butt" stroke-linejoin="round" stroke-dasharray="8.4 10.6"/>
<path d="M1131 3056.6H1194" stroke-width="2.1" stroke-linecap="butt" stroke-linejoin="round" stroke-dasharray="8.4 10.6"/>
<path d="M437.1 3320.1C442.1 3320.3 460.5 3320.5 467.3 3320.9C474.1 3321.4 469.1 3322.2 477.8 3322.8C486.6 3323.3 509.4 3324.2 519.9 3324.1C530.4 3324.0 533.9 3323.1 540.9 3322.2C547.9 3321.4 556.2 3320.1 561.9 3318.8C567.6 3317.5 568.1 3315.3 575.1 3314.3C582.1 3313.4 597.4 3314.6 604.0 3313.0C610.5 3311.5 611.4 3307.1 614.5 3305.2C617.5 3303.2 619.7 3301.8 622.4 3301.2C625.0 3300.6 627.2 3300.4 630.2 3301.7C633.3 3303.0 637.3 3307.1 640.8 3309.1C644.3 3311.1 648.2 3312.9 651.3 3313.6C654.3 3314.2 655.7 3314.6 659.2 3313.0C662.7 3311.5 667.9 3307.3 672.3 3304.4C676.7 3301.4 680.2 3297.4 685.4 3295.2C690.7 3292.9 698.6 3292.2 703.8 3290.7C709.1 3289.2 711.7 3288.2 717.0 3286.0C722.2 3283.8 729.7 3280.5 735.4 3277.6C741.1 3274.6 746.8 3270.8 751.1 3268.4C755.5 3265.9 757.3 3265.4 761.7 3263.1C766.0 3260.8 772.2 3257.9 777.4 3254.7C782.7 3251.5 788.4 3247.6 793.2 3243.9C798.0 3240.2 805.2 3233.2 806.3 3232.4C807.5 3231.5 797.6 3240.8 800.0 3238.7C802.4 3236.6 814.5 3226.0 821.0 3219.7C827.6 3213.5 831.5 3209.7 839.4 3201.3C847.3 3193.0 860.4 3178.3 868.3 3169.8C876.2 3161.3 880.6 3155.8 886.7 3150.1C892.9 3144.4 899.0 3140.0 905.1 3135.6C911.3 3131.3 917.4 3127.3 923.5 3123.8C929.7 3120.3 935.3 3117.3 941.9 3114.6C948.5 3111.9 955.9 3109.2 962.9 3107.5C970.0 3105.9 977.8 3104.7 984.0 3104.6C990.1 3104.6 995.4 3106.0 999.7 3107.3C1004.1 3108.5 1006.3 3109.2 1010.2 3112.0C1014.2 3114.7 1019.0 3119.6 1023.4 3123.8C1027.8 3128.0 1032.2 3133.1 1036.5 3137.0C1040.9 3140.8 1045.3 3144.5 1049.7 3146.7C1054.1 3148.9 1058.9 3149.7 1062.8 3150.1C1066.8 3150.5 1068.9 3150.0 1073.3 3149.3C1077.7 3148.6 1082.1 3147.2 1089.1 3145.6C1096.1 3144.0 1106.6 3141.5 1115.4 3139.6C1124.1 3137.7 1132.9 3135.9 1141.7 3134.3C1150.4 3132.7 1153.0 3132.7 1167.9 3129.9C1182.9 3127.0 1209.9 3121.3 1231.4 3117.5C1252.9 3113.7 1275.2 3110.4 1297.1 3107.0C1319.0 3103.6 1340.9 3100.4 1362.8 3097.1C1384.7 3093.8 1406.6 3090.1 1428.5 3087.3C1450.4 3084.4 1472.3 3082.1 1494.2 3080.0C1516.1 3077.9 1542.3 3075.8 1559.9 3074.8C1577.6 3073.7 1584.2 3074.3 1600.0 3073.8C1615.8 3073.3 1635.0 3072.2 1655.0 3071.5C1675.0 3070.8 1698.0 3070.0 1720.0 3069.3C1742.0 3068.6 1765.3 3067.9 1787.0 3067.3C1808.7 3066.7 1828.2 3066.4 1850.0 3065.9C1871.8 3065.4 1893.0 3065.0 1918.0 3064.6C1943.0 3064.2 1948.2 3063.9 2000.0 3063.6C2051.8 3063.3 2190.8 3063.1 2229.0 3063.0" stroke-width="2.2" stroke-linecap="butt" stroke-linejoin="round" />
<path d="M437.1 2991.7L471.2 2941.8M485.7 2915.5C487.9 2910.9 494.2 2897.2 498.8 2887.9C503.4 2878.6 510.9 2864.3 513.3 2859.5M525.7 2831.9C528.2 2827.2 535.0 2812.0 540.9 2803.8C546.8 2795.7 557.8 2786.5 561.1 2783.0M590.8 2782.3C595.6 2783.5 609.7 2787.3 619.7 2789.9C629.8 2792.5 646.0 2796.5 651.3 2797.8M679.7 2806.7C684.1 2809.1 697.4 2815.9 706.5 2820.9C715.5 2825.9 729.5 2834.0 734.1 2836.7M759.0 2855.6L805.0 2895.8M800.0 2891.0L805.3 2896.2M827.6 2916.5L871.0 2961.2M892.5 2983.0L931.4 3030.3M949.8 3054.2C952.9 3058.5 962.5 3072.2 968.2 3080.4C973.9 3088.7 981.3 3099.7 984.0 3103.6M1001.8 3130.4C1004.6 3133.4 1012.8 3143.6 1018.1 3148.8C1023.5 3153.9 1028.6 3159.6 1033.9 3161.4C1039.2 3163.2 1047.0 3160.1 1049.7 3159.8M1072.0 3138.8C1074.9 3135.4 1082.1 3125.8 1089.1 3118.6C1096.1 3111.3 1109.9 3099.3 1114.1 3095.4M1140.3 3080.4C1144.9 3078.9 1158.0 3073.8 1167.9 3071.2C1177.9 3068.7 1194.7 3066.2 1200.0 3065.2" stroke-width="2.2" stroke-linecap="butt" stroke-linejoin="round" />
<path d="M437.1 2901.1L469.9 2905.5M496.2 2913.4L526.4 2925.2M553.2 2938.4L581.6 2953.1M607.1 2968.1L635.0 2983.3M660.5 2998.3L688.6 3012.7M714.3 3027.2L743.8 3040.3M772.2 3049.5C774.8 3049.9 782.7 3051.4 787.9 3051.6C793.2 3051.9 801.1 3051.0 803.7 3050.9M831.5 3041.0L852.6 3022.6M872.3 2996.1L886.7 2968.5M897.8 2940.4L908.5 2910.7M917.0 2881.3L924.8 2851.6M930.9 2821.3L938.2 2791.1M943.8 2761.4L950.6 2730.7M955.6 2700.4L962.4 2670.2M956.4 2700.0L962.2 2670.6M967.7 2640.3L976.6 2608.8M988.7 2582.5C989.9 2582.7 993.7 2582.3 995.8 2583.8C997.9 2585.4 999.3 2588.4 1001.1 2591.7C1002.8 2595.0 1005.4 2601.6 1006.3 2603.5M1013.4 2633.2L1020.8 2664.0M1014.2 2640.0L1020.2 2663.7M1025.5 2693.4L1031.3 2724.1M1036.5 2754.3L1043.6 2785.9M1049.7 2814.8L1058.9 2845.0M1067.5 2873.4C1068.5 2876.5 1071.4 2887.4 1073.3 2892.3C1075.3 2897.2 1078.4 2901.1 1079.4 2902.8M1093.8 2929.1L1115.4 2952.7M1137.7 2969.8L1164.0 2986.4M1190.3 2998.6L1218.3 3007.4M1246.2 3016.0L1274.1 3022.2M1303.0 3027.5L1331.6 3032.1M1361.2 3035.3L1390.7 3038.6M1421.9 3041.3L1451.5 3043.2M1481.1 3044.5L1512.3 3044.9M1541.9 3045.5L1573.1 3046.5M1603.4 3046.5L1634.4 3046.6M1664.9 3046.8L1695.9 3046.9M1726.4 3047.1L1757.4 3047.2M1787.9 3047.4L1818.9 3047.5M1849.4 3047.7L1880.4 3047.8M1910.9 3048.0L1941.9 3048.1M1972.4 3048.3L2003.4 3048.4M2033.9 3048.6L2064.9 3048.7M2095.4 3048.9L2126.4 3049.0M2156.9 3049.2L2187.9 3049.3M2218.4 3049.4L2226.0 3049.5" stroke-width="5.8" stroke-linecap="round" stroke-linejoin="round" />
<path d="M437.1 3063.4C440.8 3065.3 450.0 3071.1 459.4 3075.2C468.8 3079.3 487.9 3085.7 493.6 3087.8M521.2 3098.8C525.3 3099.6 538.5 3103.4 546.1 3103.6C553.8 3103.7 561.0 3100.4 567.2 3099.6C573.3 3098.8 580.3 3099.0 582.9 3098.8M610.5 3108.0C613.8 3110.5 624.3 3118.1 630.2 3122.5C636.2 3126.9 641.3 3130.2 646.0 3134.3C650.7 3138.5 656.5 3145.3 658.6 3147.5M677.0 3171.1C679.7 3174.8 687.3 3184.9 693.3 3193.5C699.3 3202.0 709.8 3217.5 713.0 3222.4M728.0 3248.1C730.6 3252.2 737.7 3263.4 743.3 3272.3C748.8 3281.2 758.2 3296.8 761.1 3301.7M779.5 3326.2C782.2 3328.6 790.9 3337.3 795.8 3340.6C800.7 3343.9 806.1 3345.1 809.0 3345.9C811.8 3346.7 810.7 3346.0 813.1 3345.4C815.6 3344.7 820.5 3343.5 823.7 3341.9C826.8 3340.4 830.7 3337.1 832.1 3336.2M847.3 3310.4C849.5 3305.8 856.1 3292.2 860.4 3282.8C864.8 3273.4 871.4 3258.7 873.6 3253.9M883.6 3225.8C885.4 3220.6 891.2 3204.6 894.6 3194.8C898.1 3184.9 902.7 3171.3 904.3 3166.6M912.5 3137.7C914.1 3132.6 919.1 3116.8 922.2 3106.7C925.4 3096.7 929.9 3082.2 931.4 3077.3M938.0 3048.9C939.0 3045.8 941.4 3040.4 944.0 3030.5C946.6 3020.6 952.1 2996.4 953.7 2989.5M960.3 2959.3L972.1 2897.6M976.6 2868.6L986.1 2805.6M989.2 2776.7L995.8 2713.6M999.7 2685.0L1005.8 2620.6M1008.9 2591.7L1014.2 2528.6M1016.8 2499.7L1023.9 2436.7M1026.3 2407.8L1028.6 2392.0L1031.3 2382.0L1033.6 2378.6L1037.3 2381.5L1040.7 2388.0L1043.4 2398.6L1046.0 2416.2M1049.7 2444.5L1056.8 2507.6M1059.7 2535.2L1066.0 2599.6M1068.1 2628.5L1073.9 2691.6M1076.7 2720.2L1084.4 2783.2M1087.8 2812.1L1098.3 2875.2M1104.3 2904.1L1121.2 2964.6M1133.2 2992.2C1136.4 2996.5 1149.5 3014.6 1152.2 3018.4C1154.8 3022.3 1145.9 3011.7 1149.3 3015.0C1152.6 3018.2 1168.4 3034.1 1172.3 3038.0M1198.6 3051.1C1204.0 3052.3 1221.6 3056.7 1231.4 3058.3C1241.3 3060.0 1253.3 3060.5 1257.7 3061.0" stroke-width="9.5" stroke-linecap="round" stroke-linejoin="round" />
<path d="M437.1 2995.7C454.4 2995.9 519.2 2995.9 540.9 2997.0C562.6 2998.1 558.9 3000.3 567.2 3002.2C575.5 3004.2 582.5 3006.4 590.8 3008.8C599.2 3011.2 608.3 3013.8 617.1 3016.7C625.9 3019.5 634.6 3023.0 643.4 3025.9C652.2 3028.8 660.9 3031.7 669.7 3034.3C678.4 3036.9 687.2 3039.1 696.0 3041.7C704.7 3044.2 713.5 3047.3 722.2 3049.5C731.0 3051.8 739.8 3053.6 748.5 3055.3C757.3 3057.1 766.0 3058.6 774.8 3060.1C783.6 3061.5 793.5 3063.0 801.1 3064.0C808.6 3065.0 815.8 3065.6 820.0 3065.8C824.2 3066.1 816.5 3065.7 826.3 3065.5C836.1 3065.3 856.9 3065.0 878.8 3064.7C900.7 3064.3 927.0 3063.9 957.7 3063.4C988.3 3062.8 1022.4 3061.8 1062.8 3061.5C1103.2 3061.2 1143.8 3061.4 1200.0 3061.5C1256.2 3061.6 1228.5 3061.9 1400.0 3062.0C1571.5 3062.1 2090.8 3062.0 2229.0 3062.0" stroke-width="8.6" stroke-linecap="round" stroke-linejoin="round" />
</g>
<g clip-path="url(#ci)">
<path d="M1494.2 3308.1L1538.8 3308.9L1583.5 3310.2L1644.0 3312.3" stroke-width="2.1" stroke-linecap="butt" stroke-linejoin="round" stroke-dasharray="9 9"/>
<path d="M1599.3 3393.5C1606.7 3391.1 1633.0 3382.5 1644.0 3379.1C1654.9 3375.7 1656.2 3375.5 1665.0 3373.3C1673.8 3371.1 1682.5 3368.7 1696.5 3366.0C1710.5 3363.2 1731.6 3359.4 1749.1 3356.8C1766.6 3354.1 1783.2 3352.2 1801.7 3350.2C1820.1 3348.1 1836.1 3345.9 1860.0 3344.4C1883.9 3342.9 1913.4 3342.2 1945.1 3341.0C1976.8 3339.8 2019.6 3338.1 2050.2 3337.0C2080.9 3336.0 2099.8 3335.4 2129.1 3334.9C2158.4 3334.5 2209.7 3334.5 2225.8 3334.4" stroke-width="2.2" stroke-linecap="butt" stroke-linejoin="round" />
<path d="M1638.7 3393.5L1696.5 3380.4M1722.8 3375.9L1745.2 3372.5M1772.7 3368.1L1837.1 3361.2M1865.0 3358.9L1886.0 3358.1M1914.4 3356.0L1978.0 3353.6M2005.6 3352.3L2027.1 3352.0M2055.5 3351.0L2119.9 3350.4M2147.5 3349.4L2168.5 3349.4M2197.4 3348.9L2229.0 3348.9" stroke-width="4.8" stroke-linecap="round" stroke-linejoin="round" />
<path d="M1494.2 3188.6L1521.8 3195.1M1546.7 3202.5L1579.6 3208.3M1607.2 3212.5L1640.8 3216.7M1668.4 3219.0L1701.8 3222.5M1730.2 3223.2L1763.5 3225.3M1791.7 3226.7L1825.8 3227.5M1853.4 3228.2C1854.5 3228.3 1854.4 3228.3 1860.0 3228.5C1865.6 3228.7 1882.8 3229.2 1887.3 3229.3M1915.7 3229.8L1949.1 3230.1M1977.2 3231.4L2010.8 3232.2M2038.9 3232.2L2072.6 3232.2M2100.2 3232.2L2134.9 3232.2M2161.9 3232.2L2196.9 3232.2M2224.2 3232.2L2229.0 3232.2" stroke-width="5.6" stroke-linecap="round" stroke-linejoin="round" />
<path d="M1494.2 3116.8C1499.4 3118.3 1515.6 3122.9 1525.7 3125.5C1535.8 3128.1 1549.8 3131.4 1554.6 3132.6M1583.5 3137.8L1603.2 3140.5M1630.8 3143.4C1636.1 3144.0 1651.9 3146.1 1662.4 3147.3C1672.9 3148.5 1688.6 3149.9 1693.9 3150.4M1722.8 3152.0L1742.5 3153.6M1771.4 3154.7L1835.8 3156.2M1863.7 3157.8L1884.7 3157.8M1913.6 3158.9L1976.7 3159.4M2005.6 3159.6L2026.6 3159.9M2055.5 3160.4L2118.6 3160.7M2147.5 3161.0L2168.5 3161.0M2196.1 3161.0L2229.0 3161.0" stroke-width="11" stroke-linecap="round" stroke-linejoin="round" />
<path d="M1489.0 3316.6L2229.0 3316.6" stroke-width="8.8" stroke-linecap="round" stroke-linejoin="round" />
</g>
<path d="M1491 3395.3V3117.3H2229.0" stroke-width="5.5"/>
<rect x="1674.4" y="3117.3" width="5.6" height="18.2" rx="1.6" fill="#000" stroke="none"/>
<rect x="1806.2" y="3117.3" width="5.6" height="18.2" rx="1.6" fill="#000" stroke="none"/>
<rect x="1908.4" y="3117.3" width="5.6" height="18.2" rx="1.6" fill="#000" stroke="none"/>
<rect x="1991.9" y="3117.3" width="5.6" height="18.2" rx="1.6" fill="#000" stroke="none"/>
<rect x="2062.6" y="3117.3" width="5.6" height="18.2" rx="1.6" fill="#000" stroke="none"/>
<rect x="2123.8" y="3117.3" width="5.6" height="18.2" rx="1.6" fill="#000" stroke="none"/>
<rect x="2177.7" y="3117.3" width="5.6" height="18.2" rx="1.6" fill="#000" stroke="none"/>
<rect x="1491.0" y="3155.0" width="34.1" height="5.6" rx="1.6" fill="#000" stroke="none"/>
<rect x="2194.9" y="3155.0" width="34.1" height="5.6" rx="1.6" fill="#000" stroke="none"/>
<rect x="1491.0" y="3235.2" width="18.2" height="5.6" rx="1.6" fill="#000" stroke="none"/>
<rect x="2210.8" y="3235.2" width="18.2" height="5.6" rx="1.6" fill="#000" stroke="none"/>
<rect x="1491.0" y="3313.8" width="34.1" height="5.6" rx="1.6" fill="#000" stroke="none"/>
<rect x="2194.9" y="3313.8" width="34.1" height="5.6" rx="1.6" fill="#000" stroke="none"/>
</g>
<g stroke="#000" fill="none">
<rect x="437.0" y="57.9" width="1792.0" height="3337.4" stroke-width="6.0"/>
<line x1="437.0" y1="1171.0" x2="2229.0" y2="1171.0" stroke-width="6.0" stroke-linecap="butt" />
<line x1="437.0" y1="2282.8" x2="2229.0" y2="2282.8" stroke-width="6.0" stroke-linecap="butt" />
<rect x="619.4" y="57.9" width="5.6" height="18.2" rx="1.6" fill="#000" stroke="none"/>
<rect x="619.4" y="1152.8" width="5.6" height="36.4" rx="1.6" fill="#000" stroke="none"/>
<rect x="619.4" y="2264.6" width="5.6" height="36.4" rx="1.6" fill="#000" stroke="none"/>
<rect x="619.4" y="3377.1" width="5.6" height="18.2" rx="1.6" fill="#000" stroke="none"/>
<rect x="751.2" y="57.9" width="5.6" height="18.2" rx="1.6" fill="#000" stroke="none"/>
<rect x="751.2" y="1152.8" width="5.6" height="36.4" rx="1.6" fill="#000" stroke="none"/>
<rect x="751.2" y="2264.6" width="5.6" height="36.4" rx="1.6" fill="#000" stroke="none"/>
<rect x="751.2" y="3377.1" width="5.6" height="18.2" rx="1.6" fill="#000" stroke="none"/>
<rect x="853.4" y="57.9" width="5.6" height="18.2" rx="1.6" fill="#000" stroke="none"/>
<rect x="853.4" y="1152.8" width="5.6" height="36.4" rx="1.6" fill="#000" stroke="none"/>
<rect x="853.4" y="2264.6" width="5.6" height="36.4" rx="1.6" fill="#000" stroke="none"/>
<rect x="853.4" y="3377.1" width="5.6" height="18.2" rx="1.6" fill="#000" stroke="none"/>
<rect x="936.9" y="57.9" width="5.6" height="18.2" rx="1.6" fill="#000" stroke="none"/>
<rect x="936.9" y="1152.8" width="5.6" height="36.4" rx="1.6" fill="#000" stroke="none"/>
<rect x="936.9" y="2264.6" width="5.6" height="36.4" rx="1.6" fill="#000" stroke="none"/>
<rect x="936.9" y="3377.1" width="5.6" height="18.2" rx="1.6" fill="#000" stroke="none"/>
<rect x="1007.6" y="57.9" width="5.6" height="18.2" rx="1.6" fill="#000" stroke="none"/>
<rect x="1007.6" y="1152.8" width="5.6" height="36.4" rx="1.6" fill="#000" stroke="none"/>
<rect x="1007.6" y="2264.6" width="5.6" height="36.4" rx="1.6" fill="#000" stroke="none"/>
<rect x="1007.6" y="3377.1" width="5.6" height="18.2" rx="1.6" fill="#000" stroke="none"/>
<rect x="1068.8" y="57.9" width="5.6" height="18.2" rx="1.6" fill="#000" stroke="none"/>
<rect x="1068.8" y="1152.8" width="5.6" height="36.4" rx="1.6" fill="#000" stroke="none"/>
<rect x="1068.8" y="2264.6" width="5.6" height="36.4" rx="1.6" fill="#000" stroke="none"/>
<rect x="1068.8" y="3377.1" width="5.6" height="18.2" rx="1.6" fill="#000" stroke="none"/>
<rect x="1122.7" y="57.9" width="5.6" height="18.2" rx="1.6" fill="#000" stroke="none"/>
<rect x="1122.7" y="1152.8" width="5.6" height="36.4" rx="1.6" fill="#000" stroke="none"/>
<rect x="1122.7" y="2264.6" width="5.6" height="36.4" rx="1.6" fill="#000" stroke="none"/>
<rect x="1122.7" y="3377.1" width="5.6" height="18.2" rx="1.6" fill="#000" stroke="none"/>
<rect x="1171.0" y="57.9" width="5.6" height="34.1" rx="1.6" fill="#000" stroke="none"/>
<rect x="1171.0" y="1136.9" width="5.6" height="68.2" rx="1.6" fill="#000" stroke="none"/>
<rect x="1171.0" y="2248.7" width="5.6" height="68.2" rx="1.6" fill="#000" stroke="none"/>
<rect x="1171.0" y="3361.2" width="5.6" height="34.1" rx="1.6" fill="#000" stroke="none"/>
<rect x="1488.6" y="57.9" width="5.6" height="18.2" rx="1.6" fill="#000" stroke="none"/>
<rect x="1488.6" y="1152.8" width="5.6" height="36.4" rx="1.6" fill="#000" stroke="none"/>
<rect x="1488.6" y="2264.6" width="5.6" height="36.4" rx="1.6" fill="#000" stroke="none"/>
<rect x="1488.6" y="3377.1" width="5.6" height="18.2" rx="1.6" fill="#000" stroke="none"/>
<rect x="1674.4" y="57.9" width="5.6" height="18.2" rx="1.6" fill="#000" stroke="none"/>
<rect x="1674.4" y="1152.8" width="5.6" height="36.4" rx="1.6" fill="#000" stroke="none"/>
<rect x="1674.4" y="2264.6" width="5.6" height="36.4" rx="1.6" fill="#000" stroke="none"/>
<rect x="1674.4" y="3377.1" width="5.6" height="18.2" rx="1.6" fill="#000" stroke="none"/>
<rect x="1806.2" y="57.9" width="5.6" height="18.2" rx="1.6" fill="#000" stroke="none"/>
<rect x="1806.2" y="1152.8" width="5.6" height="36.4" rx="1.6" fill="#000" stroke="none"/>
<rect x="1806.2" y="2264.6" width="5.6" height="36.4" rx="1.6" fill="#000" stroke="none"/>
<rect x="1806.2" y="3377.1" width="5.6" height="18.2" rx="1.6" fill="#000" stroke="none"/>
<rect x="1908.4" y="57.9" width="5.6" height="18.2" rx="1.6" fill="#000" stroke="none"/>
<rect x="1908.4" y="1152.8" width="5.6" height="36.4" rx="1.6" fill="#000" stroke="none"/>
<rect x="1908.4" y="2264.6" width="5.6" height="36.4" rx="1.6" fill="#000" stroke="none"/>
<rect x="1908.4" y="3377.1" width="5.6" height="18.2" rx="1.6" fill="#000" stroke="none"/>
<rect x="1991.9" y="57.9" width="5.6" height="18.2" rx="1.6" fill="#000" stroke="none"/>
<rect x="1991.9" y="1152.8" width="5.6" height="36.4" rx="1.6" fill="#000" stroke="none"/>
<rect x="1991.9" y="2264.6" width="5.6" height="36.4" rx="1.6" fill="#000" stroke="none"/>
<rect x="1991.9" y="3377.1" width="5.6" height="18.2" rx="1.6" fill="#000" stroke="none"/>
<rect x="2062.6" y="57.9" width="5.6" height="18.2" rx="1.6" fill="#000" stroke="none"/>
<rect x="2062.6" y="1152.8" width="5.6" height="36.4" rx="1.6" fill="#000" stroke="none"/>
<rect x="2062.6" y="2264.6" width="5.6" height="36.4" rx="1.6" fill="#000" stroke="none"/>
<rect x="2062.6" y="3377.1" width="5.6" height="18.2" rx="1.6" fill="#000" stroke="none"/>
<rect x="2123.8" y="57.9" width="5.6" height="18.2" rx="1.6" fill="#000" stroke="none"/>
<rect x="2123.8" y="1152.8" width="5.6" height="36.4" rx="1.6" fill="#000" stroke="none"/>
<rect x="2123.8" y="2264.6" width="5.6" height="36.4" rx="1.6" fill="#000" stroke="none"/>
<rect x="2123.8" y="3377.1" width="5.6" height="18.2" rx="1.6" fill="#000" stroke="none"/>
<rect x="2177.7" y="57.9" width="5.6" height="18.2" rx="1.6" fill="#000" stroke="none"/>
<rect x="2177.7" y="1152.8" width="5.6" height="36.4" rx="1.6" fill="#000" stroke="none"/>
<rect x="2177.7" y="2264.6" width="5.6" height="36.4" rx="1.6" fill="#000" stroke="none"/>
<rect x="2177.7" y="3377.1" width="5.6" height="18.2" rx="1.6" fill="#000" stroke="none"/>
<rect x="437.0" y="1128.5" width="18.2" height="5.6" rx="1.6" fill="#000" stroke="none"/>
<rect x="2210.8" y="1128.5" width="18.2" height="5.6" rx="1.6" fill="#000" stroke="none"/>
<rect x="437.0" y="1088.8" width="18.2" height="5.6" rx="1.6" fill="#000" stroke="none"/>
<rect x="2210.8" y="1088.8" width="18.2" height="5.6" rx="1.6" fill="#000" stroke="none"/>
<rect x="437.0" y="1049.0" width="34.1" height="5.6" rx="1.6" fill="#000" stroke="none"/>
<rect x="2194.9" y="1049.0" width="34.1" height="5.6" rx="1.6" fill="#000" stroke="none"/>
<rect x="437.0" y="1009.3" width="18.2" height="5.6" rx="1.6" fill="#000" stroke="none"/>
<rect x="2210.8" y="1009.3" width="18.2" height="5.6" rx="1.6" fill="#000" stroke="none"/>
<rect x="437.0" y="969.6" width="18.2" height="5.6" rx="1.6" fill="#000" stroke="none"/>
<rect x="2210.8" y="969.6" width="18.2" height="5.6" rx="1.6" fill="#000" stroke="none"/>
<rect x="437.0" y="929.9" width="18.2" height="5.6" rx="1.6" fill="#000" stroke="none"/>
<rect x="2210.8" y="929.9" width="18.2" height="5.6" rx="1.6" fill="#000" stroke="none"/>
<rect x="437.0" y="890.2" width="18.2" height="5.6" rx="1.6" fill="#000" stroke="none"/>
<rect x="2210.8" y="890.2" width="18.2" height="5.6" rx="1.6" fill="#000" stroke="none"/>
<rect x="437.0" y="850.5" width="34.1" height="5.6" rx="1.6" fill="#000" stroke="none"/>
<rect x="2194.9" y="850.5" width="34.1" height="5.6" rx="1.6" fill="#000" stroke="none"/>
<rect x="437.0" y="810.7" width="18.2" height="5.6" rx="1.6" fill="#000" stroke="none"/>
<rect x="2210.8" y="810.7" width="18.2" height="5.6" rx="1.6" fill="#000" stroke="none"/>
<rect x="437.0" y="771.0" width="18.2" height="5.6" rx="1.6" fill="#000" stroke="none"/>
<rect x="2210.8" y="771.0" width="18.2" height="5.6" rx="1.6" fill="#000" stroke="none"/>
<rect x="437.0" y="731.3" width="18.2" height="5.6" rx="1.6" fill="#000" stroke="none"/>
<rect x="2210.8" y="731.3" width="18.2" height="5.6" rx="1.6" fill="#000" stroke="none"/>
<rect x="437.0" y="691.6" width="18.2" height="5.6" rx="1.6" fill="#000" stroke="none"/>
<rect x="2210.8" y="691.6" width="18.2" height="5.6" rx="1.6" fill="#000" stroke="none"/>
<rect x="437.0" y="651.9" width="34.1" height="5.6" rx="1.6" fill="#000" stroke="none"/>
<rect x="2194.9" y="651.9" width="34.1" height="5.6" rx="1.6" fill="#000" stroke="none"/>
<rect x="437.0" y="612.1" width="18.2" height="5.6" rx="1.6" fill="#000" stroke="none"/>
<rect x="2210.8" y="612.1" width="18.2" height="5.6" rx="1.6" fill="#000" stroke="none"/>
<rect x="437.0" y="572.4" width="18.2" height="5.6" rx="1.6" fill="#000" stroke="none"/>
<rect x="2210.8" y="572.4" width="18.2" height="5.6" rx="1.6" fill="#000" stroke="none"/>
<rect x="437.0" y="532.7" width="18.2" height="5.6" rx="1.6" fill="#000" stroke="none"/>
<rect x="2210.8" y="532.7" width="18.2" height="5.6" rx="1.6" fill="#000" stroke="none"/>
<rect x="437.0" y="493.0" width="18.2" height="5.6" rx="1.6" fill="#000" stroke="none"/>
<rect x="2210.8" y="493.0" width="18.2" height="5.6" rx="1.6" fill="#000" stroke="none"/>
<rect x="437.0" y="453.2" width="34.1" height="5.6" rx="1.6" fill="#000" stroke="none"/>
<rect x="2194.9" y="453.2" width="34.1" height="5.6" rx="1.6" fill="#000" stroke="none"/>
<rect x="437.0" y="413.5" width="18.2" height="5.6" rx="1.6" fill="#000" stroke="none"/>
<rect x="2210.8" y="413.5" width="18.2" height="5.6" rx="1.6" fill="#000" stroke="none"/>
<rect x="437.0" y="373.8" width="18.2" height="5.6" rx="1.6" fill="#000" stroke="none"/>
<rect x="2210.8" y="373.8" width="18.2" height="5.6" rx="1.6" fill="#000" stroke="none"/>
<rect x="437.0" y="334.1" width="18.2" height="5.6" rx="1.6" fill="#000" stroke="none"/>
<rect x="2210.8" y="334.1" width="18.2" height="5.6" rx="1.6" fill="#000" stroke="none"/>
<rect x="437.0" y="294.4" width="18.2" height="5.6" rx="1.6" fill="#000" stroke="none"/>
<rect x="2210.8" y="294.4" width="18.2" height="5.6" rx="1.6" fill="#000" stroke="none"/>
<rect x="437.0" y="254.6" width="34.1" height="5.6" rx="1.6" fill="#000" stroke="none"/>
<rect x="2194.9" y="254.6" width="34.1" height="5.6" rx="1.6" fill="#000" stroke="none"/>
<rect x="437.0" y="214.9" width="18.2" height="5.6" rx="1.6" fill="#000" stroke="none"/>
<rect x="2210.8" y="214.9" width="18.2" height="5.6" rx="1.6" fill="#000" stroke="none"/>
<rect x="437.0" y="175.2" width="18.2" height="5.6" rx="1.6" fill="#000" stroke="none"/>
<rect x="2210.8" y="175.2" width="18.2" height="5.6" rx="1.6" fill="#000" stroke="none"/>
<rect x="437.0" y="135.5" width="18.2" height="5.6" rx="1.6" fill="#000" stroke="none"/>
<rect x="2210.8" y="135.5" width="18.2" height="5.6" rx="1.6" fill="#000" stroke="none"/>
<rect x="437.0" y="95.8" width="18.2" height="5.6" rx="1.6" fill="#000" stroke="none"/>
<rect x="2210.8" y="95.8" width="18.2" height="5.6" rx="1.6" fill="#000" stroke="none"/>
<rect x="437.0" y="2195.5" width="18.2" height="5.6" rx="1.6" fill="#000" stroke="none"/>
<rect x="2210.8" y="2195.5" width="18.2" height="5.6" rx="1.6" fill="#000" stroke="none"/>
<rect x="437.0" y="2109.9" width="34.1" height="5.6" rx="1.6" fill="#000" stroke="none"/>
<rect x="2194.9" y="2109.9" width="34.1" height="5.6" rx="1.6" fill="#000" stroke="none"/>
<rect x="437.0" y="2024.3" width="18.2" height="5.6" rx="1.6" fill="#000" stroke="none"/>
<rect x="2210.8" y="2024.3" width="18.2" height="5.6" rx="1.6" fill="#000" stroke="none"/>
<rect x="437.0" y="1938.8" width="18.2" height="5.6" rx="1.6" fill="#000" stroke="none"/>
<rect x="2210.8" y="1938.8" width="18.2" height="5.6" rx="1.6" fill="#000" stroke="none"/>
<rect x="437.0" y="1853.2" width="18.2" height="5.6" rx="1.6" fill="#000" stroke="none"/>
<rect x="2210.8" y="1853.2" width="18.2" height="5.6" rx="1.6" fill="#000" stroke="none"/>
<rect x="437.0" y="1767.6" width="18.2" height="5.6" rx="1.6" fill="#000" stroke="none"/>
<rect x="2210.8" y="1767.6" width="18.2" height="5.6" rx="1.6" fill="#000" stroke="none"/>
<rect x="437.0" y="1682.0" width="34.1" height="5.6" rx="1.6" fill="#000" stroke="none"/>
<rect x="2194.9" y="1682.0" width="34.1" height="5.6" rx="1.6" fill="#000" stroke="none"/>
<rect x="437.0" y="1596.5" width="18.2" height="5.6" rx="1.6" fill="#000" stroke="none"/>
<rect x="2210.8" y="1596.5" width="18.2" height="5.6" rx="1.6" fill="#000" stroke="none"/>
<rect x="437.0" y="1510.9" width="18.2" height="5.6" rx="1.6" fill="#000" stroke="none"/>
<rect x="2210.8" y="1510.9" width="18.2" height="5.6" rx="1.6" fill="#000" stroke="none"/>
<rect x="437.0" y="1425.3" width="18.2" height="5.6" rx="1.6" fill="#000" stroke="none"/>
<rect x="2210.8" y="1425.3" width="18.2" height="5.6" rx="1.6" fill="#000" stroke="none"/>
<rect x="437.0" y="1339.8" width="18.2" height="5.6" rx="1.6" fill="#000" stroke="none"/>
<rect x="2210.8" y="1339.8" width="18.2" height="5.6" rx="1.6" fill="#000" stroke="none"/>
<rect x="437.0" y="1254.2" width="34.1" height="5.6" rx="1.6" fill="#000" stroke="none"/>
<rect x="2194.9" y="1254.2" width="34.1" height="5.6" rx="1.6" fill="#000" stroke="none"/>
<rect x="437.0" y="3281.6" width="34.1" height="5.6" rx="1.6" fill="#000" stroke="none"/>
<rect x="2194.9" y="3281.6" width="34.1" height="5.6" rx="1.6" fill="#000" stroke="none"/>
<rect x="437.0" y="3170.4" width="18.2" height="5.6" rx="1.6" fill="#000" stroke="none"/>
<rect x="2210.8" y="3170.4" width="18.2" height="5.6" rx="1.6" fill="#000" stroke="none"/>
<rect x="437.0" y="3059.2" width="34.1" height="5.6" rx="1.6" fill="#000" stroke="none"/>
<rect x="2194.9" y="3059.2" width="34.1" height="5.6" rx="1.6" fill="#000" stroke="none"/>
<rect x="437.0" y="2948.0" width="18.2" height="5.6" rx="1.6" fill="#000" stroke="none"/>
<rect x="2210.8" y="2948.0" width="18.2" height="5.6" rx="1.6" fill="#000" stroke="none"/>
<rect x="437.0" y="2836.8" width="34.1" height="5.6" rx="1.6" fill="#000" stroke="none"/>
<rect x="2194.9" y="2836.8" width="34.1" height="5.6" rx="1.6" fill="#000" stroke="none"/>
<rect x="437.0" y="2725.6" width="18.2" height="5.6" rx="1.6" fill="#000" stroke="none"/>
<rect x="2210.8" y="2725.6" width="18.2" height="5.6" rx="1.6" fill="#000" stroke="none"/>
<rect x="437.0" y="2614.4" width="34.1" height="5.6" rx="1.6" fill="#000" stroke="none"/>
<rect x="2194.9" y="2614.4" width="34.1" height="5.6" rx="1.6" fill="#000" stroke="none"/>
<rect x="437.0" y="2503.2" width="18.2" height="5.6" rx="1.6" fill="#000" stroke="none"/>
<rect x="2210.8" y="2503.2" width="18.2" height="5.6" rx="1.6" fill="#000" stroke="none"/>
<rect x="437.0" y="2392.0" width="34.1" height="5.6" rx="1.6" fill="#000" stroke="none"/>
<rect x="2194.9" y="2392.0" width="34.1" height="5.6" rx="1.6" fill="#000" stroke="none"/>
</g>
<g fill="#000">
<text transform="translate(378.8 88.6) scale(1 1.04)" font-size="93.3" text-anchor="end" >15</text>
<text transform="translate(378.8 288.1) scale(1 1.04)" font-size="93.3" text-anchor="end" >10</text>
<text transform="translate(378.8 486.7) scale(1 1.04)" font-size="93.3" text-anchor="end" >5</text>
<text transform="translate(378.8 685.4) scale(1 1.04)" font-size="93.3" text-anchor="end" >0</text>
<text transform="translate(378.8 884.0) scale(1 1.04)" font-size="93.3" text-anchor="end" >−5</text>
<text transform="translate(378.8 1082.5) scale(1 1.04)" font-size="93.3" text-anchor="end" >−10</text>
<text transform="translate(378.8 1287.7) scale(1 1.04)" font-size="93.3" text-anchor="end" >10</text>
<text transform="translate(378.8 1715.5) scale(1 1.04)" font-size="93.3" text-anchor="end" >5</text>
<text transform="translate(378.8 2143.4) scale(1 1.04)" font-size="93.3" text-anchor="end" >0</text>
<text transform="translate(378.8 2425.5) scale(1 1.04)" font-size="93.3" text-anchor="end" >0.6</text>
<text transform="translate(378.8 2647.9) scale(1 1.04)" font-size="93.3" text-anchor="end" >0.4</text>
<text transform="translate(378.8 2870.3) scale(1 1.04)" font-size="93.3" text-anchor="end" >0.2</text>
<text transform="translate(378.8 3092.7) scale(1 1.04)" font-size="93.3" text-anchor="end" >0</text>
<text transform="translate(378.8 3315.1) scale(1 1.04)" font-size="93.3" text-anchor="end" >−0.2</text>
<text transform="translate(1173.8 3503.8) scale(1 1.04)" font-size="93.3" text-anchor="middle" >10</text>
<text transform="translate(2229.3 3503.8) scale(1 1.04)" font-size="93.3" text-anchor="middle" >100</text>
</g>
<g fill="#000">
<text id="l3p" transform="translate(1194.5 216.0) scale(1 1.035)" font-size="92.9" text-anchor="start"><tspan>H</tspan><tspan dy="-54.11" font-size="53.5">+</tspan><tspan dy="54.11">+C</tspan><tspan dy="-54.11" font-size="53.5">3+</tspan><tspan dy="54.11">(3p)</tspan></text>
<text id="l1s" transform="translate(1576.8 581.3) scale(1 1.035)" font-size="92.9" text-anchor="start"><tspan>H(1s)+C</tspan><tspan dy="-54.11" font-size="53.5">4+</tspan></text>
<text id="l3d" transform="translate(1582.8 897.8) scale(1 1.035)" font-size="92.9" text-anchor="start"><tspan>H</tspan><tspan dy="-54.11" font-size="53.5">+</tspan><tspan dy="54.11">+C</tspan><tspan dy="-54.11" font-size="53.5">3+</tspan><tspan dy="54.11">(3d)</tspan></text>
<text id="l3s" transform="translate(727.9 1057.1) scale(1 1.035)" font-size="92.9" text-anchor="start"><tspan>H</tspan><tspan dy="-54.11" font-size="53.5">+</tspan><tspan dy="54.11">+C</tspan><tspan dy="-54.11" font-size="53.5">3+</tspan><tspan dy="54.11">(3s)</tspan></text>
<text id="ta" transform="translate(1994.3 229.6) scale(1 1.035)" font-size="92.9" text-anchor="start"><tspan>(a)</tspan></text>
<text id="tb" transform="translate(1994.3 1366.8) scale(1 1.035)" font-size="92.9" text-anchor="start"><tspan>(b)</tspan></text>
<text id="tc" transform="translate(591.4 2499.9) scale(1 1.035)" font-size="92.9" text-anchor="start"><tspan>(c)</tspan></text>
<g id="lgb" transform="translate(1603.1 1572.2) scale(1 1.035)" font-size="92.9">
<text x="0.0" y="0"><tspan>&lt;1s</tspan><tspan font-size="53.5" dy="-54.11">a</tspan><tspan dy="54.11">|</tspan></text>
<text transform="translate(211.7 0) scale(1.11 1) skewX(11)" font-family="Liberation Serif,serif" font-size="90.5">∂</text>
<text x="252.1" y="0"><tspan>/</tspan></text>
<text transform="translate(283.5 0) scale(1.11 1) skewX(11)" font-family="Liberation Serif,serif" font-size="90.5">∂</text>
<text x="323.9" y="0"><tspan>R|3d</tspan><tspan font-size="53.5" dy="-54.11">a</tspan><tspan dy="54.11">&gt;</tspan></text>
</g>
<text id="lg1" transform="translate(1603.1 2405.1) scale(1 1.035)" font-size="92.9" text-anchor="start"><tspan>&lt;1s</tspan><tspan dy="-54.11" font-size="53.5">d</tspan><tspan dy="54.11">|H</tspan><tspan dy="28.50" font-size="53.5">el</tspan><tspan dy="-28.50">|3d</tspan><tspan dy="-54.11" font-size="53.5">d</tspan><tspan dy="54.11">&gt;</tspan></text>
<g id="lg2" transform="translate(1603.1 2519.5) scale(1 1.035)" font-size="92.9">
<text x="0.0" y="0"><tspan>&lt;1s</tspan><tspan font-size="53.5" dy="-54.11">d</tspan><tspan dy="54.11">|</tspan></text>
<text transform="translate(211.7 0) scale(1.11 1) skewX(11)" font-family="Liberation Serif,serif" font-size="90.5">∂</text>
<text x="252.1" y="0"><tspan>/</tspan></text>
<text transform="translate(283.5 0) scale(1.11 1) skewX(11)" font-family="Liberation Serif,serif" font-size="90.5">∂</text>
<text x="323.9" y="0"><tspan>R|3p&gt;</tspan></text>
</g>
<g id="lg3" transform="translate(1603.1 2633.9) scale(1 1.035)" font-size="92.9">
<text x="0.0" y="0"><tspan>&lt;1s</tspan><tspan font-size="53.5" dy="-54.11">d</tspan><tspan dy="54.11">|</tspan></text>
<text transform="translate(211.7 0) scale(1.11 1) skewX(11)" font-family="Liberation Serif,serif" font-size="90.5">∂</text>
<text x="252.1" y="0"><tspan>/</tspan></text>
<text transform="translate(283.5 0) scale(1.11 1) skewX(11)" font-family="Liberation Serif,serif" font-size="90.5">∂</text>
<text x="323.9" y="0"><tspan>R|3s&gt;</tspan></text>
</g>
<g id="lg4" transform="translate(1603.1 2748.3) scale(1 1.035)" font-size="92.9">
<text x="0.0" y="0"><tspan>&lt;3d</tspan><tspan font-size="53.5" dy="-54.11">d</tspan><tspan dy="54.11">|</tspan></text>
<text transform="translate(216.9 0) scale(1.11 1) skewX(11)" font-family="Liberation Serif,serif" font-size="90.5">∂</text>
<text x="257.3" y="0"><tspan>/</tspan></text>
<text transform="translate(288.7 0) scale(1.11 1) skewX(11)" font-family="Liberation Serif,serif" font-size="90.5">∂</text>
<text x="329.1" y="0"><tspan>R|3p&gt;</tspan></text>
</g>
<g id="lg5" transform="translate(1603.1 2862.7) scale(1 1.035)" font-size="92.9">
<text x="0.0" y="0"><tspan>&lt;3d</tspan><tspan font-size="53.5" dy="-54.11">d</tspan><tspan dy="54.11">|</tspan></text>
<text transform="translate(216.9 0) scale(1.11 1) skewX(11)" font-family="Liberation Serif,serif" font-size="90.5">∂</text>
<text x="257.3" y="0"><tspan>/</tspan></text>
<text transform="translate(288.7 0) scale(1.11 1) skewX(11)" font-family="Liberation Serif,serif" font-size="90.5">∂</text>
<text x="329.1" y="0"><tspan>R|3s&gt;</tspan></text>
</g>
<g id="lg6" transform="translate(1603.1 2977.1) scale(1 1.035)" font-size="92.9">
<text x="0.0" y="0"><tspan>&lt;3p|</tspan></text>
<text transform="translate(187.2 0) scale(1.11 1) skewX(11)" font-family="Liberation Serif,serif" font-size="90.5">∂</text>
<text x="227.6" y="0"><tspan>/</tspan></text>
<text transform="translate(258.9 0) scale(1.11 1) skewX(11)" font-family="Liberation Serif,serif" font-size="90.5">∂</text>
<text x="299.3" y="0"><tspan>R|3s&gt;</tspan></text>
</g>
<text id="i1" transform="translate(1431.5 3189.5) scale(1 1.04)" font-size="92.9" text-anchor="end"><tspan>0.02</tspan></text>
<text id="i2" transform="translate(1431.5 3348.5) scale(1 1.04)" font-size="92.9" text-anchor="end"><tspan>0</tspan></text>
<text id="xl" transform="translate(734.3 3628.0) scale(1 1.035)" font-size="92.9" text-anchor="start"><tspan>Internuclear distance R (a.u.)</tspan></text>
<text id="yl1" transform="translate(126.0 1036.9) rotate(-90) scale(1 1.035)" font-size="92.9" text-anchor="start"><tspan>Potentials V</tspan><tspan dy="28.50" font-size="53.5">j</tspan><tspan dy="-28.50">(R) (eV)</tspan></text>
<text id="yl2" transform="translate(105.0 2032.1) rotate(-90) scale(1 1.035)" font-size="92.9" text-anchor="start"><tspan>Coupling (a.u.)</tspan></text>
<text id="yl3" transform="translate(90.0 3167.9) rotate(-90) scale(1 1.035)" font-size="92.9" text-anchor="start"><tspan>Couplings (a.u.)</tspan></text>
</g>
</svg></body></html>
